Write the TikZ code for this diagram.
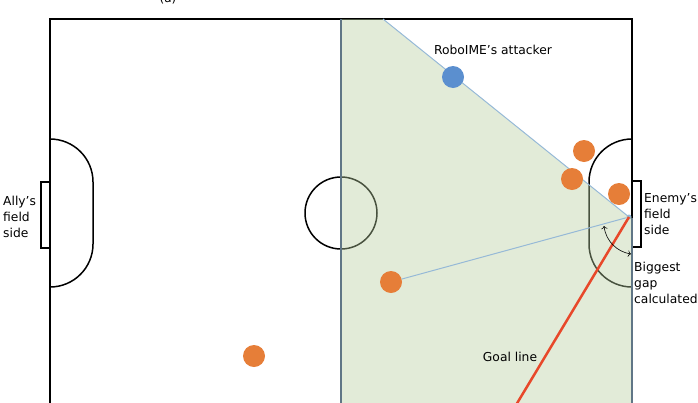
\documentclass[tikz,border=0pt]{standalone}
\usepackage{fontspec}
\setmainfont{DejaVu Sans}
\usetikzlibrary{arrows.meta}
\definecolor{enemy}{RGB}{230,126,56}
\definecolor{ally}{RGB}{91,143,207}
\definecolor{zone}{RGB}{182,205,158}
\definecolor{zoneborder}{RGB}{96,118,134}
\definecolor{ray}{RGB}{150,185,215}
\definecolor{goalred}{RGB}{232,72,42}
\begin{document}
\begin{tikzpicture}[x=1pt,y=-1pt,
		robot/.style={circle,inner sep=0pt,minimum size=22pt},
		lbl/.style={align=left,inner sep=0pt,font=\fontsize{12.3}{16}\selectfont},
		fieldline/.style={line width=1.5pt}]
		\useasboundingbox (0,0) rectangle (698,402);
		\node[inner sep=0pt,anchor=south,font=\fontsize{12}{14}\selectfont] (caption) at (168,4) {(a)};
		
		% field
		\draw[fieldline] (50,420) -- (50,19) -- (632,19) -- (632,420);
		\draw[fieldline] (341,19) -- (341,420);
		\draw[fieldline] (341,213) circle[radius=36pt];
		\draw[fieldline] (50,139) arc(90:0:43pt) -- (93,244) arc(0:-90:43pt);
		\draw[fieldline] (632,139) arc(90:180:43pt) -- (589,244) arc(180:270:43pt);
		\draw[fieldline] (50,182) -- (41,182) -- (41,248) -- (50,248);
		\draw[fieldline] (632,181) -- (641,181) -- (641,247) -- (632,247);
		
		% shooting zone
		\coordinate (corner) at (383,19);
		\node[circle,fill=ray,inner sep=0pt,minimum size=5pt] (goal) at (629,217) {};
		\coordinate (redend) at (507,420);
		\fill[zone,fill opacity=0.4] (341,19) -- (corner) -- (goal.center) -- (632,218) -- (632,420) -- (341,420) -- cycle;
		\draw[zoneborder,line width=1.5pt] (341,19) -- (341,420);
		\draw[zoneborder,line width=1.5pt] (632,218) -- (632,420);
		\draw[ray,line width=1pt] (corner) -- (goal.center);
		
		% robots
		\node[robot,fill=ally] (attacker) at (453,77) {};
		\node[robot,fill=enemy] (e1) at (584,151) {};
		\node[robot,fill=enemy] (e2) at (572,179) {};
		\node[robot,fill=enemy] (e3) at (619,194) {};
		\node[robot,fill=enemy] (e4) at (391,282) {};
		\node[robot,fill=enemy] (e5) at (254,356) {};
		
		\draw[ray,line width=1pt] (e4) -- (goal);
		\draw[goalred,line width=2.5pt] (goal.center) -- (redend);
		
		\coordinate (gapa) at (604,226);
		\coordinate (gapb) at (631,254);
		\draw[{To[length=3pt]}-{To[length=3pt]},line width=0.6pt] (gapa) .. controls (606,242) and (618,252) .. (gapb);
		
		\node[lbl] (robolbl) at (493,50) {RoboIME’s attacker};
		\node[lbl] (goallbl) at (510,357) {Goal line};
		\node[lbl,anchor=west] (ally) at (3,217) {Ally’s\\field\\side};
		\node[lbl,anchor=west] (enemy) at (644,214) {Enemy’s\\field\\side};
		\node[lbl,anchor=west] (gap) at (634,283) {Biggest\\gap\\calculated};
	\end{tikzpicture}
\end{document}
